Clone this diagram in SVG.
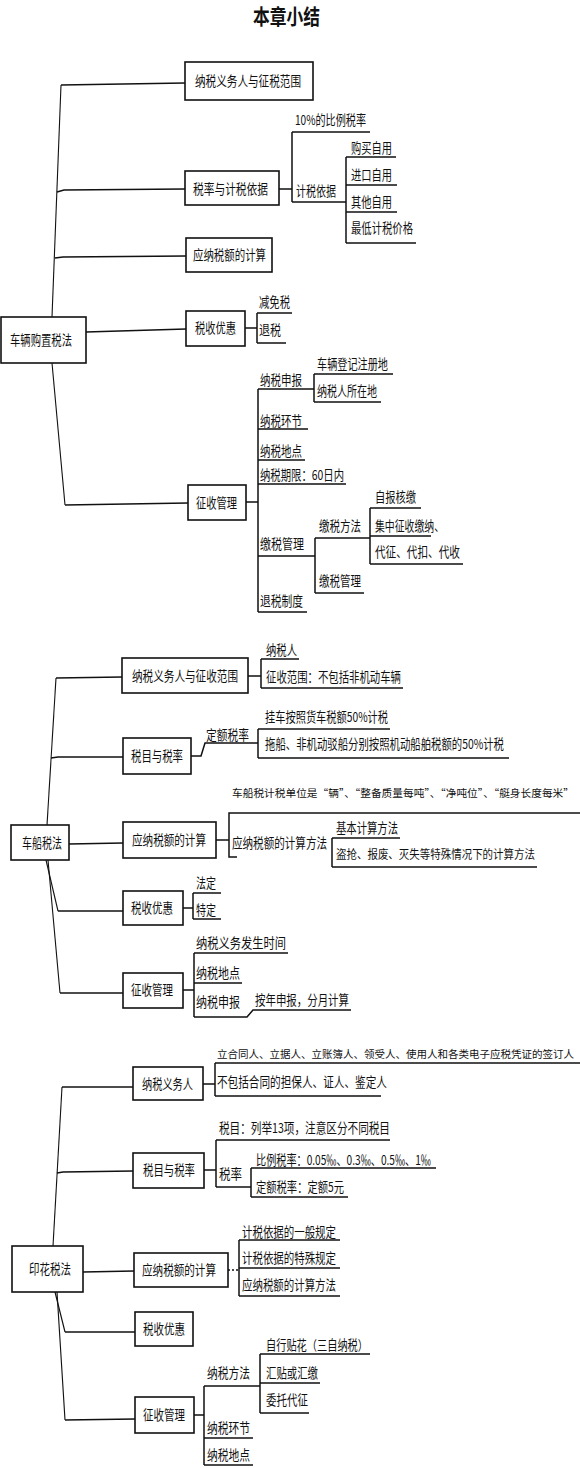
<svg xmlns="http://www.w3.org/2000/svg" width="580" height="1468" viewBox="0 0 580 1468">
<style>
.bg{fill:#fff}
.box{fill:#fff;stroke:#111;stroke-width:1.6}
.ln{fill:none;stroke:#111;stroke-width:1.5}
.tr{fill:none;stroke:#111;stroke-width:1.1}
.dash{fill:none;stroke:#111;stroke-width:1.3;stroke-dasharray:2 2}
.t{font-family:"Noto Sans CJK SC","Noto Sans CJK JP",sans-serif;font-size:13.5px;fill:#111}
.tl{font-family:"Noto Sans CJK SC","Noto Sans CJK JP",sans-serif;font-size:10.6px;fill:#111}
.title{font-family:"Noto Sans CJK SC",sans-serif;font-size:21px;font-weight:bold;fill:#111}
</style>
<rect class="bg" x="0" y="0" width="580" height="1468"/>
<text class="title" x="253" y="24" textLength="67" lengthAdjust="spacingAndGlyphs">本章小结</text>

<g id="connectors">
<!-- Section 1 trunk -->
<path class="tr" d="M61,85 L52,317"/>
<path class="ln" d="M61,85 L185,83"/>
<path class="ln" d="M57,192 L64,190 L185,189"/>
<path class="ln" d="M55,258 L63,257 L186,256"/>
<path class="ln" d="M86,332 L186,329"/>
<path class="tr" d="M52,363 L65,505"/>
<path class="ln" d="M65,505 L188,503"/>
<!-- 税率与计税依据 -->
<path class="ln" d="M279,189 L292,189 M292,132 L292,202 M292,132 L370,132 M292,202 L346,202 M346,157 L346,243 M346,157 L396,157 M346,185 L397,185 M346,212 L397,212 M346,243 L416,243"/>
<!-- 税收优惠 -->
<path class="ln" d="M245,328 L257,328 M257,313 L257,343 M257,313 L292,313 M257,343 L286,343"/>
<!-- 征收管理 -->
<path class="ln" d="M246,502 L258,502 M258,389 L258,612 M258,389 L314,389 M258,429 L308,429 M258,460 L305,460 M258,484 L346,484 M258,556 L315,556 M258,612 L307,612"/>
<path class="ln" d="M314,374 L314,402 M314,374 L393,374 M314,402 L381,402"/>
<path class="ln" d="M315,538 L315,593 M315,538 L370,538 M315,593 L364,593"/>
<path class="ln" d="M370,508 L370,564 M370,508 L421,508 M370,536 L431,536 M370,564 L463,564"/>

<!-- Section 2 trunk -->
<path class="tr" d="M56,678 L47,825"/>
<path class="ln" d="M56,678 L122,677"/>
<path class="ln" d="M51,758 L58,757 L123,757"/>
<path class="ln" d="M69,844 L123,843"/>
<path class="tr" d="M46,860 L58,911"/>
<path class="ln" d="M58,911 L123,911"/>
<path class="tr" d="M48,860 L60,993"/>
<path class="ln" d="M60,993 L123,993"/>
<path class="ln" d="M248,676 L261,676 M261,659 L261,688 M261,659 L299,659 M261,688 L403,688"/>
<path class="ln" d="M191,756 L201,756 L205,743 L258,743 M258,729 L258,758 M258,729 L390,729 M258,758 L509,758"/>
<path class="ln" d="M216,840 L229,840 M237,857 L229,857 L229,813 L580,813 M332,838 L332,867 M332,838 L400,838 M332,867 L537,867"/>
<path class="ln" d="M183,908 L193,908 M193,893 L193,919 M193,893 L221,893 M193,919 L221,919"/>
<path class="ln" d="M183,990 L194,990 M194,953 L194,1017 M194,953 L288,953 M194,983 L242,983 M194,1017 L247,1017 L253,1010 L351,1010"/>

<!-- Section 3 trunk -->
<path class="tr" d="M62,1087 L53,1246"/>
<path class="ln" d="M62,1087 L133,1087"/>
<path class="ln" d="M57,1173 L63,1172 L133,1171"/>
<path class="ln" d="M83,1272 L134,1271"/>
<path class="tr" d="M55,1292 L65,1332"/>
<path class="ln" d="M65,1332 L135,1332"/>
<path class="tr" d="M57,1292 L65,1420"/>
<path class="ln" d="M65,1420 L135,1419"/>
<path class="ln" d="M203,1084 L215,1084 M215,1063 L215,1096 M215,1063 L580,1063 M215,1096 L381,1096"/>
<path class="ln" d="M204,1170 L216,1170 M216,1140 L216,1187 M216,1140 L390,1140 M216,1187 L251,1187 M251,1168 L251,1197 M251,1168 L436,1168 M251,1197 L348,1197"/>
<path class="dash" d="M228,1270 L239,1270"/>
<path class="ln" d="M239,1240 L239,1296 M239,1240 L340,1240 M239,1268 L340,1268 M239,1296 L340,1296"/>
<path class="ln" d="M194,1415 L204,1415 M204,1386 L204,1465 M204,1386 L260,1386 M260,1354 L260,1413 M260,1354 L370,1354 M260,1383 L320,1383 M260,1413 L309,1413 M204,1438 L253,1438 M204,1465 L253,1465"/>
</g>

<!-- ===== Section 1 ===== -->
<g id="n-clgzsf"><rect class="box" x="1" y="317" width="85" height="46"/><text class="t" x="10" y="345" textLength="62" lengthAdjust="spacingAndGlyphs">车辆购置税法</text></g>
<g id="n1-ywr"><rect class="box" x="185" y="62" width="128" height="38"/><text class="t" x="195" y="86" textLength="106" lengthAdjust="spacingAndGlyphs">纳税义务人与征税范围</text></g>
<g id="n1-slyj"><rect class="box" x="185" y="171" width="94" height="34"/><text class="t" x="193" y="194" textLength="75" lengthAdjust="spacingAndGlyphs">税率与计税依据</text></g>
<g id="n1-10"><text class="t" x="295" y="125" textLength="71" lengthAdjust="spacingAndGlyphs">10%的比例税率</text></g>
<g id="n1-jsyj"><text class="t" x="296" y="196" textLength="40" lengthAdjust="spacingAndGlyphs">计税依据</text></g>
<g id="n1-gm"><text class="t" x="351" y="153" textLength="41" lengthAdjust="spacingAndGlyphs">购买自用</text></g>
<g id="n1-jk"><text class="t" x="351" y="180" textLength="41" lengthAdjust="spacingAndGlyphs">进口自用</text></g>
<g id="n1-qt"><text class="t" x="351" y="207" textLength="41" lengthAdjust="spacingAndGlyphs">其他自用</text></g>
<g id="n1-zd"><text class="t" x="351" y="233" textLength="62" lengthAdjust="spacingAndGlyphs">最低计税价格</text></g>
<g id="n1-ynse"><rect class="box" x="186" y="238" width="86" height="34"/><text class="t" x="193" y="260" textLength="73" lengthAdjust="spacingAndGlyphs">应纳税额的计算</text></g>
<g id="n1-ssyh"><rect class="box" x="186" y="311" width="59" height="35"/><text class="t" x="195" y="333" textLength="41" lengthAdjust="spacingAndGlyphs">税收优惠</text></g>
<g id="n1-jms"><text class="t" x="259" y="307" textLength="31" lengthAdjust="spacingAndGlyphs">减免税</text></g>
<g id="n1-ts"><text class="t" x="259" y="335" textLength="22" lengthAdjust="spacingAndGlyphs">退税</text></g>
<g id="n1-zsgl"><rect class="box" x="188" y="485" width="58" height="35"/><text class="t" x="196" y="508" textLength="41" lengthAdjust="spacingAndGlyphs">征收管理</text></g>
<g id="n1-nssb"><text class="t" x="260" y="385" textLength="42" lengthAdjust="spacingAndGlyphs">纳税申报</text></g>
<g id="n1-cldj"><text class="t" x="317" y="369" textLength="71" lengthAdjust="spacingAndGlyphs">车辆登记注册地</text></g>
<g id="n1-nsrszd"><text class="t" x="317" y="396" textLength="60" lengthAdjust="spacingAndGlyphs">纳税人所在地</text></g>
<g id="n1-nshj"><text class="t" x="260" y="426" textLength="42" lengthAdjust="spacingAndGlyphs">纳税环节</text></g>
<g id="n1-nsdd"><text class="t" x="260" y="456" textLength="42" lengthAdjust="spacingAndGlyphs">纳税地点</text></g>
<g id="n1-nsqx"><text class="t" x="260" y="480" textLength="84" lengthAdjust="spacingAndGlyphs">纳税期限：60日内</text></g>
<g id="n1-jsgl"><text class="t" x="260" y="549" textLength="44" lengthAdjust="spacingAndGlyphs">缴税管理</text></g>
<g id="n1-jsff"><text class="t" x="319" y="531" textLength="42" lengthAdjust="spacingAndGlyphs">缴税方法</text></g>
<g id="n1-zbhj"><text class="t" x="375" y="502" textLength="41" lengthAdjust="spacingAndGlyphs">自报核缴</text></g>
<g id="n1-jzzs"><text class="t" x="375" y="531" textLength="69" lengthAdjust="spacingAndGlyphs">集中征收缴纳、</text></g>
<g id="n1-dz"><text class="t" x="375" y="557" textLength="85" lengthAdjust="spacingAndGlyphs">代征、代扣、代收</text></g>
<g id="n1-jsgl2"><text class="t" x="319" y="586" textLength="42" lengthAdjust="spacingAndGlyphs">缴税管理</text></g>
<g id="n1-tszd"><text class="t" x="260" y="606" textLength="43" lengthAdjust="spacingAndGlyphs">退税制度</text></g>

<!-- ===== Section 2 ===== -->
<g id="n-ccsf"><rect class="box" x="11" y="825" width="58" height="35"/><text class="t" x="22" y="848" textLength="40" lengthAdjust="spacingAndGlyphs">车船税法</text></g>
<g id="n2-ywr"><rect class="box" x="122" y="658" width="126" height="35"/><text class="t" x="132" y="681" textLength="106" lengthAdjust="spacingAndGlyphs">纳税义务人与征收范围</text></g>
<g id="n2-nsr"><text class="t" x="266" y="655" textLength="31" lengthAdjust="spacingAndGlyphs">纳税人</text></g>
<g id="n2-zsfw"><text class="t" x="266" y="682" textLength="135" lengthAdjust="spacingAndGlyphs">征收范围：不包括非机动车辆</text></g>
<g id="n2-smsl"><rect class="box" x="123" y="738" width="68" height="36"/><text class="t" x="131" y="761" textLength="52" lengthAdjust="spacingAndGlyphs">税目与税率</text></g>
<g id="n2-desl"><text class="t" x="206" y="740" textLength="43" lengthAdjust="spacingAndGlyphs">定额税率</text></g>
<g id="n2-gc"><text class="t" x="265" y="722" textLength="123" lengthAdjust="spacingAndGlyphs">挂车按照货车税额50%计税</text></g>
<g id="n2-tc"><text class="t" x="265" y="749" textLength="239" lengthAdjust="spacingAndGlyphs">拖船、非机动驳船分别按照机动船舶税额的50%计税</text></g>
<g id="n2-ynse"><rect class="box" x="123" y="822" width="93" height="36"/><text class="t" x="132" y="845" textLength="74" lengthAdjust="spacingAndGlyphs">应纳税额的计算</text></g>
<g id="n2-dw"><text class="tl" x="232" y="797" textLength="342" lengthAdjust="spacingAndGlyphs">车船税计税单位是“辆”、“整备质量每吨”、“净吨位”、“艇身长度每米”</text></g>
<g id="n2-jsff"><text class="t" x="232" y="848" textLength="95" lengthAdjust="spacingAndGlyphs">应纳税额的计算方法</text></g>
<g id="n2-jb"><text class="t" x="336" y="833" textLength="62" lengthAdjust="spacingAndGlyphs">基本计算方法</text></g>
<g id="n2-dq"><text class="t" x="336" y="859" style="font-size:12px" textLength="199" lengthAdjust="spacingAndGlyphs">盗抢、报废、灭失等特殊情况下的计算方法</text></g>
<g id="n2-ssyh"><rect class="box" x="123" y="891" width="60" height="34"/><text class="t" x="131" y="913" textLength="42" lengthAdjust="spacingAndGlyphs">税收优惠</text></g>
<g id="n2-fd"><text class="t" x="196" y="888" textLength="20" lengthAdjust="spacingAndGlyphs">法定</text></g>
<g id="n2-td"><text class="t" x="196" y="915" textLength="20" lengthAdjust="spacingAndGlyphs">特定</text></g>
<g id="n2-zsgl"><rect class="box" x="123" y="973" width="60" height="35"/><text class="t" x="131" y="995" textLength="42" lengthAdjust="spacingAndGlyphs">征收管理</text></g>
<g id="n2-fssj"><text class="t" x="196" y="948" textLength="90" lengthAdjust="spacingAndGlyphs">纳税义务发生时间</text></g>
<g id="n2-nsdd"><text class="t" x="196" y="978" textLength="44" lengthAdjust="spacingAndGlyphs">纳税地点</text></g>
<g id="n2-nssb"><text class="t" x="196" y="1007" textLength="44" lengthAdjust="spacingAndGlyphs">纳税申报</text></g>
<g id="n2-anb"><text class="t" x="255" y="1005" textLength="94" lengthAdjust="spacingAndGlyphs">按年申报，分月计算</text></g>

<!-- ===== Section 3 ===== -->
<g id="n-yhsf"><rect class="box" x="12" y="1246" width="71" height="46"/><text class="t" x="29" y="1274" textLength="42" lengthAdjust="spacingAndGlyphs">印花税法</text></g>
<g id="n3-ywr"><rect class="box" x="133" y="1067" width="70" height="33"/><text class="t" x="142" y="1089" textLength="51" lengthAdjust="spacingAndGlyphs">纳税义务人</text></g>
<g id="n3-lht"><text class="tl" x="217" y="1058" textLength="357" lengthAdjust="spacingAndGlyphs">立合同人、立据人、立账簿人、领受人、使用人和各类电子应税凭证的签订人</text></g>
<g id="n3-bbk"><text class="t" x="217" y="1087" textLength="170" lengthAdjust="spacingAndGlyphs">不包括合同的担保人、证人、鉴定人</text></g>
<g id="n3-smsl"><rect class="box" x="133" y="1153" width="71" height="35"/><text class="t" x="143" y="1175" textLength="52" lengthAdjust="spacingAndGlyphs">税目与税率</text></g>
<g id="n3-sm"><text class="t" x="219" y="1133" textLength="171" lengthAdjust="spacingAndGlyphs">税目：列举13项，注意区分不同税目</text></g>
<g id="n3-sl"><text class="t" x="219" y="1179" textLength="23" lengthAdjust="spacingAndGlyphs">税率</text></g>
<g id="n3-blsl"><text class="t" x="256" y="1165" textLength="175" lengthAdjust="spacingAndGlyphs">比例税率：0.05‰、0.3‰、0.5‰、1‰</text></g>
<g id="n3-desl"><text class="t" x="256" y="1192" textLength="88" lengthAdjust="spacingAndGlyphs">定额税率：定额5元</text></g>
<g id="n3-ynse"><rect class="box" x="134" y="1253" width="94" height="34"/><text class="t" x="142" y="1275" textLength="74" lengthAdjust="spacingAndGlyphs">应纳税额的计算</text></g>
<g id="n3-yb"><text class="t" x="242" y="1237" textLength="94" lengthAdjust="spacingAndGlyphs">计税依据的一般规定</text></g>
<g id="n3-ts"><text class="t" x="242" y="1263" textLength="94" lengthAdjust="spacingAndGlyphs">计税依据的特殊规定</text></g>
<g id="n3-ff"><text class="t" x="242" y="1290" textLength="94" lengthAdjust="spacingAndGlyphs">应纳税额的计算方法</text></g>
<g id="n3-ssyh"><rect class="box" x="135" y="1312" width="58" height="34"/><text class="t" x="143" y="1334" textLength="42" lengthAdjust="spacingAndGlyphs">税收优惠</text></g>
<g id="n3-zsgl"><rect class="box" x="135" y="1397" width="59" height="36"/><text class="t" x="143" y="1420" textLength="42" lengthAdjust="spacingAndGlyphs">征收管理</text></g>
<g id="n3-nsff"><text class="t" x="207" y="1378" textLength="43" lengthAdjust="spacingAndGlyphs">纳税方法</text></g>
<g id="n3-zxth"><text class="t" x="266" y="1350" textLength="102" lengthAdjust="spacingAndGlyphs">自行贴花（三自纳税）</text></g>
<g id="n3-ht"><text class="t" x="266" y="1378" textLength="52" lengthAdjust="spacingAndGlyphs">汇贴或汇缴</text></g>
<g id="n3-wt"><text class="t" x="266" y="1405" textLength="42" lengthAdjust="spacingAndGlyphs">委托代征</text></g>
<g id="n3-nshj"><text class="t" x="207" y="1433" textLength="43" lengthAdjust="spacingAndGlyphs">纳税环节</text></g>
<g id="n3-nsdd"><text class="t" x="207" y="1460" textLength="43" lengthAdjust="spacingAndGlyphs">纳税地点</text></g>
</svg>
